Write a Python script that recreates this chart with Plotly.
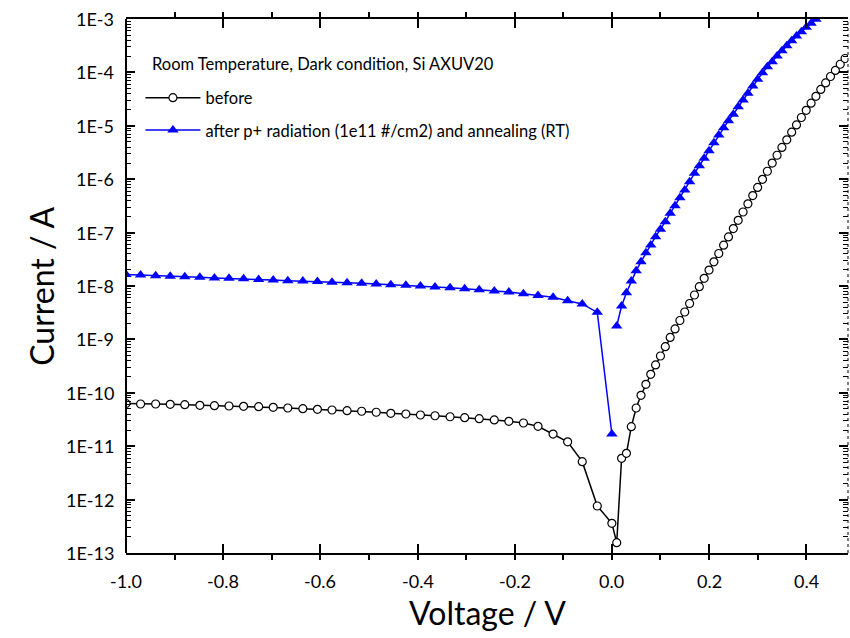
import math
import plotly.graph_objects as go

# ---------------- data ----------------
v_neg = [-1.000, -0.970, -0.939, -0.909, -0.879, -0.848, -0.818, -0.788, -0.758, -0.727,
         -0.697, -0.667, -0.636, -0.606, -0.576, -0.545, -0.515, -0.485, -0.455, -0.424,
         -0.394, -0.364, -0.333, -0.303, -0.273, -0.242, -0.212, -0.182, -0.152, -0.121,
         -0.091, -0.061, -0.030, 0.000]

i_before_neg = [6.31e-11, 6.17e-11, 6.17e-11, 6.09e-11, 5.98e-11, 5.83e-11, 5.73e-11, 5.66e-11,
                5.58e-11, 5.50e-11, 5.35e-11, 5.19e-11, 5.04e-11, 4.91e-11, 4.76e-11, 4.62e-11,
                4.51e-11, 4.32e-11, 4.13e-11, 4.01e-11, 3.84e-11, 3.72e-11, 3.56e-11, 3.42e-11,
                3.27e-11, 3.10e-11, 2.92e-11, 2.72e-11, 2.36e-11, 1.69e-11, 1.21e-11, 5.13e-12,
                7.59e-13, 3.60e-13]

i_after_neg = [1.64e-8, 1.61e-8, 1.56e-8, 1.52e-8, 1.49e-8, 1.46e-8, 1.41e-8, 1.39e-8, 1.37e-8,
               1.33e-8, 1.29e-8, 1.26e-8, 1.24e-8, 1.21e-8, 1.17e-8, 1.15e-8, 1.12e-8, 1.09e-8,
               1.06e-8, 1.03e-8, 1.00e-8, 9.58e-9, 9.29e-9, 8.89e-9, 8.53e-9, 8.06e-9, 7.73e-9,
               7.18e-9, 6.64e-9, 6.14e-9, 5.31e-9, 4.61e-9, 3.21e-9, 1.69e-11]

v_pos_before = [0.01, 0.02, 0.03, 0.04, 0.05, 0.06, 0.07, 0.08, 0.09, 0.10, 0.11, 0.12,
                0.13, 0.14, 0.15, 0.16, 0.17, 0.18, 0.19, 0.20, 0.21, 0.22, 0.23, 0.24,
                0.25, 0.26, 0.27, 0.28, 0.29, 0.30, 0.31, 0.32, 0.33, 0.34, 0.35, 0.36,
                0.37, 0.38, 0.39, 0.40, 0.41, 0.42, 0.43, 0.44, 0.45, 0.46, 0.47, 0.48]

i_before_pos = [1.56e-13, 5.93e-12, 7.36e-12, 2.32e-11, 5.19e-11, 8.98e-11, 1.44e-10, 2.22e-10,
                3.32e-10, 4.89e-10, 7.30e-10, 1.09e-9, 1.57e-9, 2.26e-9, 3.26e-9, 4.70e-9,
                6.78e-9, 9.70e-9, 1.39e-8, 1.99e-8, 2.84e-8, 4.06e-8, 5.81e-8, 8.30e-8,
                1.19e-7, 1.70e-7, 2.43e-7, 3.46e-7, 4.93e-7, 7.02e-7, 9.95e-7, 1.41e-6,
                2.00e-6, 2.81e-6, 3.93e-6, 5.47e-6, 7.59e-6, 1.04e-5, 1.43e-5, 1.95e-5,
                2.65e-5, 3.56e-5, 4.79e-5, 6.36e-5, 8.38e-5, 1.09e-4, 1.42e-4, 1.82e-4]

v_pos_after = [0.01, 0.02, 0.03, 0.04, 0.05, 0.06, 0.07, 0.08, 0.09, 0.10, 0.11, 0.12,
               0.13, 0.14, 0.15, 0.16, 0.17, 0.18, 0.19, 0.20, 0.21, 0.22, 0.23, 0.24,
               0.25, 0.26, 0.27, 0.28, 0.29, 0.30, 0.31, 0.32, 0.33, 0.34, 0.35, 0.36,
               0.37, 0.38, 0.39, 0.40, 0.41, 0.42, 0.43]

i_after_pos = [1.78e-9, 4.22e-9, 7.50e-9, 1.24e-8, 1.94e-8, 2.85e-8, 4.21e-8, 5.86e-8, 8.38e-8,
               1.15e-7, 1.60e-7, 2.30e-7, 3.19e-7, 4.51e-7, 6.28e-7, 8.97e-7, 1.29e-6, 1.79e-6,
               2.46e-6, 3.42e-6, 4.83e-6, 6.73e-6, 9.21e-6, 1.25e-5, 1.64e-5, 2.28e-5, 3.04e-5,
               4.06e-5, 5.56e-5, 7.43e-5, 9.86e-5, 1.28e-4, 1.58e-4, 2.03e-4, 2.55e-4, 3.16e-4,
               3.93e-4, 4.81e-4, 5.78e-4, 7.00e-4, 8.30e-4, 9.87e-4, 1.16e-3]

x_tickvals = [-1.0, -0.8, -0.6, -0.4, -0.2, 0.0, 0.2, 0.4]
x_ticktext = ["-1.0", "-0.8", "-0.6", "-0.4", "-0.2", "0.0", "0.2", "0.4"]
y_tickvals = [1e-13, 1e-12, 1e-11, 1e-10, 1e-9, 1e-8, 1e-7, 1e-6, 1e-5, 1e-4, 1e-3]
y_ticktext = ["1E-13", "1E-12", "1E-11", "1E-10", "1E-9", "1E-8", "1E-7", "1E-6", "1E-5", "1E-4", "1E-3"]

legend_title = "Room Temperature, Dark condition, Si AXUV20"
name_before = "before"
name_after = "after p+ radiation (1e11 #/cm2) and annealing (RT)"
x_title = "Voltage / V"
y_title = "Current / A"

# ---------------- figure ----------------
FONT = "Lato"
fig = go.Figure()

fig.add_trace(go.Scatter(
    x=v_neg + v_pos_before, y=i_before_neg + i_before_pos,
    mode="lines+markers", name=name_before, legendgroup="a",
    line=dict(color="black", width=1.5),
    marker=dict(symbol="circle", size=8, color="white", line=dict(color="black", width=1.2)),
))
fig.add_trace(go.Scatter(
    x=v_neg + [None] + v_pos_after, y=i_after_neg + [None] + i_after_pos,
    mode="lines+markers", name=name_after, legendgroup="b",
    connectgaps=False,
    line=dict(color="#0000ff", width=1.5),
    marker=dict(symbol="triangle-up", size=10, color="#0000ff", line=dict(width=0)),
))

tick_font = dict(family=FONT, size=18, color="black")
title_font = dict(family=FONT, size=32, color="black")

annotations = [dict(text=legend_title, xref="paper", yref="paper", x=0.033, y=0.915,
                    xanchor="left", yanchor="middle", showarrow=False,
                    font=dict(family=FONT, size=16.5, color="black"))]
# tick labels (placed on the axes' own scales)
for v, t in zip(x_tickvals, x_ticktext):
    annotations.append(dict(text=t, xref="x", yref="paper", x=v, y=-0.053,
                            xanchor="center", yanchor="middle", showarrow=False, font=tick_font))
for v, t in zip(y_tickvals, y_ticktext):
    annotations.append(dict(text=t, xref="paper", yref="y", x=-0.014, y=math.log10(v),
                            xanchor="right", yanchor="middle", showarrow=False, font=tick_font))
# axis titles
annotations.append(dict(text=x_title, xref="paper", yref="paper", x=0.5, y=-0.112,
                        xanchor="center", yanchor="middle", showarrow=False, font=title_font))
annotations.append(dict(text=y_title, xref="paper", yref="paper", x=-0.118, y=0.5, textangle=-90,
                        xanchor="center", yanchor="middle", showarrow=False, font=title_font))

fig.update_layout(
    width=850, height=638,
    margin=dict(l=126, r=2, t=19, b=85),
    paper_bgcolor="white", plot_bgcolor="white",
    font=dict(family=FONT, color="black"),
    showlegend=True,
    legend=dict(
        x=0.02, y=0.885, xanchor="left", yanchor="top",
        bgcolor="rgba(0,0,0,0)",
        font=dict(family=FONT, size=16.5, color="black"),
        tracegroupgap=8,
        itemwidth=55,
    ),
    annotations=annotations,
    xaxis=dict(
        range=[-1.0, 0.486], showgrid=False, zeroline=False,
        showline=True, linecolor="black", linewidth=2, mirror="ticks",
        tickmode="linear", tick0=-1.0, dtick=0.2, showticklabels=False,
        ticks="inside", ticklen=9, tickwidth=2, tickcolor="black",
        minor=dict(ticks="outside", ticklen=5, tickwidth=2, tickcolor="black",
                   dtick=0.1, tick0=0, showgrid=False),
    ),
    yaxis=dict(
        type="log", range=[-13, -3], showgrid=False, zeroline=False,
        showline=False, mirror="ticks",
        tickmode="linear", tick0=0, dtick=1, showticklabels=False,
        ticks="inside", ticklen=9, tickwidth=2, tickcolor="black",
        minor=dict(ticks="inside", ticklen=5, tickwidth=1, tickcolor="black",
                   dtick="D1", showgrid=False),
    ),
    shapes=[
        dict(type="line", xref="paper", yref="paper", x0=0, x1=0, y0=0, y1=1,
             line=dict(color="black", width=2)),
        dict(type="line", xref="paper", yref="paper", x0=1, x1=1, y0=0, y1=1,
             line=dict(color="black", width=1, dash="dot")),
    ],
)

fig.write_html("out.html")
